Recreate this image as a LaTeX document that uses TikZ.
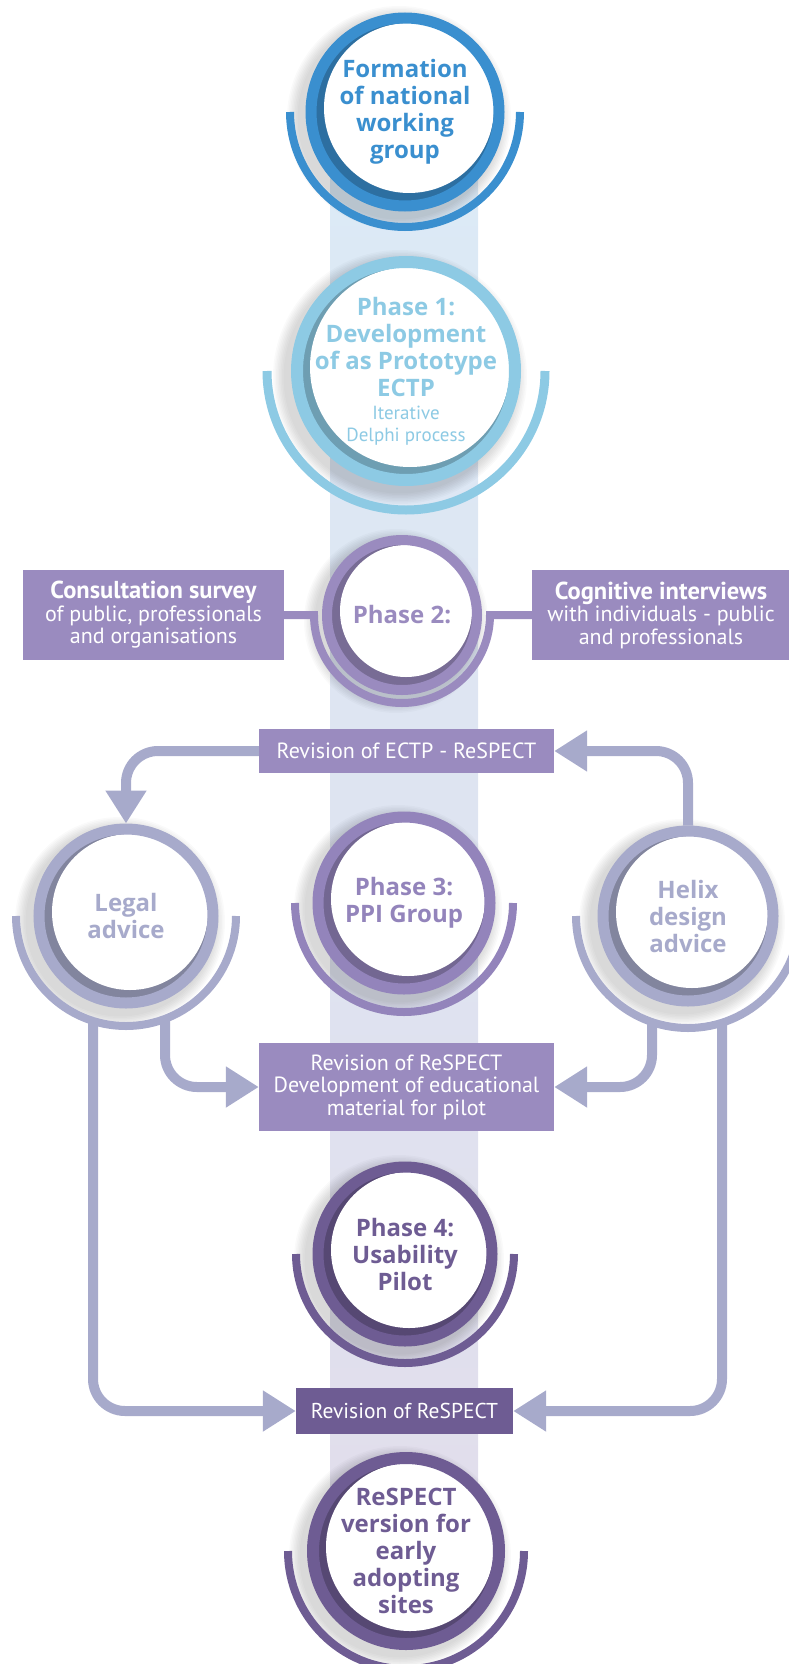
\documentclass[tikz,border=0pt]{standalone}
\usepackage{fontspec}
\setmainfont{Open Sans}
\newfontfamily\boxfont{PT Sans}
\usetikzlibrary{arrows.meta,calc,backgrounds}

\definecolor{formblue}{HTML}{3A8FCF}
\definecolor{skyblue}{HTML}{8DCAE4}
\definecolor{lilac}{HTML}{9A8BBF}
\definecolor{mauve}{HTML}{9384BB}
\definecolor{greylilac}{HTML}{A7AACB}
\definecolor{plum}{HTML}{6E5C93}
\definecolor{bandtop}{HTML}{DCEAF6}
\definecolor{bandbot}{HTML}{E1DEEC}

\newcommand{\smallline}[1]{{\mdseries\boxfont\fontsize{19}{22}\selectfont #1}}
\newcommand{\boxhead}[1]{{\bfseries\fontsize{24.5}{22.5}\selectfont #1}}

\tikzset{
  phase/.style={circle, draw=#1, fill=white, text=#1, align=center, inner sep=-14pt,
    font=\bfseries\fontsize{24}{27}\selectfont,
    path picture={
      \fill[#1!78!black] (path picture bounding box.south west) rectangle (path picture bounding box.north east);
      \fill[white] let \p1=($(path picture bounding box.north east)-(path picture bounding box.center)$) in
        ([shift={(4pt,4pt)}]path picture bounding box.center) circle[radius=\x1-9pt];
    }},
  infobox/.style={fill=#1, text=white, align=center, inner sep=0pt,
    font=\boxfont\fontsize{22}{22.5}\selectfont},
  halo/.style={draw=#1, line width=8pt},
  flow/.style={draw=greylilac, line width=10pt, rounded corners=32pt,
    -{Triangle[length=33pt,width=39pt]}},
}

\begin{document}
\begin{tikzpicture}[x=1pt,y=-1pt]
\useasboundingbox (0,0) rectangle (789,1664);

% circles down the middle
\node[phase=formblue, minimum size=188pt, line width=11pt] (form) at (405,112) {Formation\\of national\\working\\group};
\node[phase=skyblue, minimum size=218pt, line width=12pt] (ph1) at (406,371)
  {Phase 1:\\Development\\of as Prototype\\ECTP\\[-4pt]\smallline{Iterative}\\[-5pt]\smallline{Delphi process}};
\node[phase=lilac, minimum size=150pt, line width=10pt] (ph2) at (402,615) {Phase 2:};
\node[phase=mauve, minimum size=172pt, line width=11pt] (ph3) at (404,903) {Phase 3:\\PPI Group};
\node[phase=plum, minimum size=174pt, line width=11pt] (ph4) at (405,1254) {Phase 4:\\Usability\\Pilot};
\node[phase=plum, minimum size=186pt, line width=12pt] (final) at (406,1551) {ReSPECT\\version for\\early\\adopting\\sites};

% side circles
\node[phase=greylilac, minimum size=174pt, line width=11pt] (legal) at (126,916) {Legal\\advice};
\node[phase=greylilac, minimum size=170pt, line width=11pt] (helix) at (688,916) {Helix\\design\\advice};

% boxes
\node[infobox=lilac, minimum width=261pt, minimum height=90pt] (consult) at (153.5,615)
  {\boxhead{Consultation survey}\\of public, professionals\\and organisations};
\node[infobox=lilac, minimum width=258pt, minimum height=90pt] (cognit) at (661,615)
  {\boxhead{Cognitive interviews}\\with individuals - public\\and professionals};
\node[infobox=lilac, minimum width=295pt, minimum height=44pt] (revectp) at (406.5,751) {Revision of ECTP - ReSPECT};
\node[infobox=lilac, minimum width=295pt, minimum height=88pt] (revedu) at (406.5,1087)
  {Revision of ReSPECT\\Development of educational\\material for pilot};
\node[infobox=plum, minimum width=217pt, minimum height=46pt, font=\boxfont\fontsize{21.5}{24}\selectfont] (revfinal) at (404.5,1411) {Revision of ReSPECT};

% outer arcs
\draw[halo=formblue] ($(form)+(-115,0)$) arc[start angle=180, end angle=0, radius=115];
\draw[halo=skyblue, line width=9pt] ($(ph1)+(-139,0)$) arc[start angle=180, end angle=0, radius=139];
\draw[halo=lilac] (consult.east) -- ($(ph2)+(-88,0)$) arc[start angle=180, end angle=0, radius=88] -- (cognit.west);
\draw[halo=mauve] ($(ph3)+(-109,0)$) arc[start angle=180, end angle=0, radius=109];
\draw[halo=plum] ($(ph4)+(-109,0)$) arc[start angle=180, end angle=0, radius=109];
\draw[halo=plum] ($(final)+(-118,0)$) arc[start angle=180, end angle=0, radius=118];
\draw[halo=greylilac] ($(legal)+(-110,0)$) arc[start angle=180, end angle=0, radius=110];
\draw[halo=greylilac] ($(helix)+(-112,0)$) arc[start angle=180, end angle=0, radius=112];

% feedback loops
\coordinate (legalA) at ($(legal)+(-33,105)$);
\coordinate (legalB) at ($(legal)+(39,103)$);
\coordinate (helixA) at ($(helix)+(-36,106)$);
\coordinate (helixB) at ($(helix)+(34,107)$);
\draw[flow] (helix.north) |- (revectp.east);
\draw[flow] (revectp.west) -| (legal.north);
\draw[flow] (legalB) |- (revedu.west);
\draw[flow] (helixA) |- (revedu.east);
\draw[flow] (legalA) |- (revfinal.west);
\draw[flow] (helixB) |- (revfinal.east);

\begin{scope}[on background layer]
  \shade[top color=bandtop, bottom color=bandbot] (330,170) rectangle (478,1500);
  \foreach \n/\r in {form/100,ph1/115,ph2/80,ph3/92,ph4/93,final/99,legal/93,helix/91}
    \foreach \k in {1,...,8}
      \fill[black, opacity=0.02] ($(\n)+(-6,6)$) circle[radius=\r+\k*1.5];
\end{scope}
\end{tikzpicture}
\end{document}
